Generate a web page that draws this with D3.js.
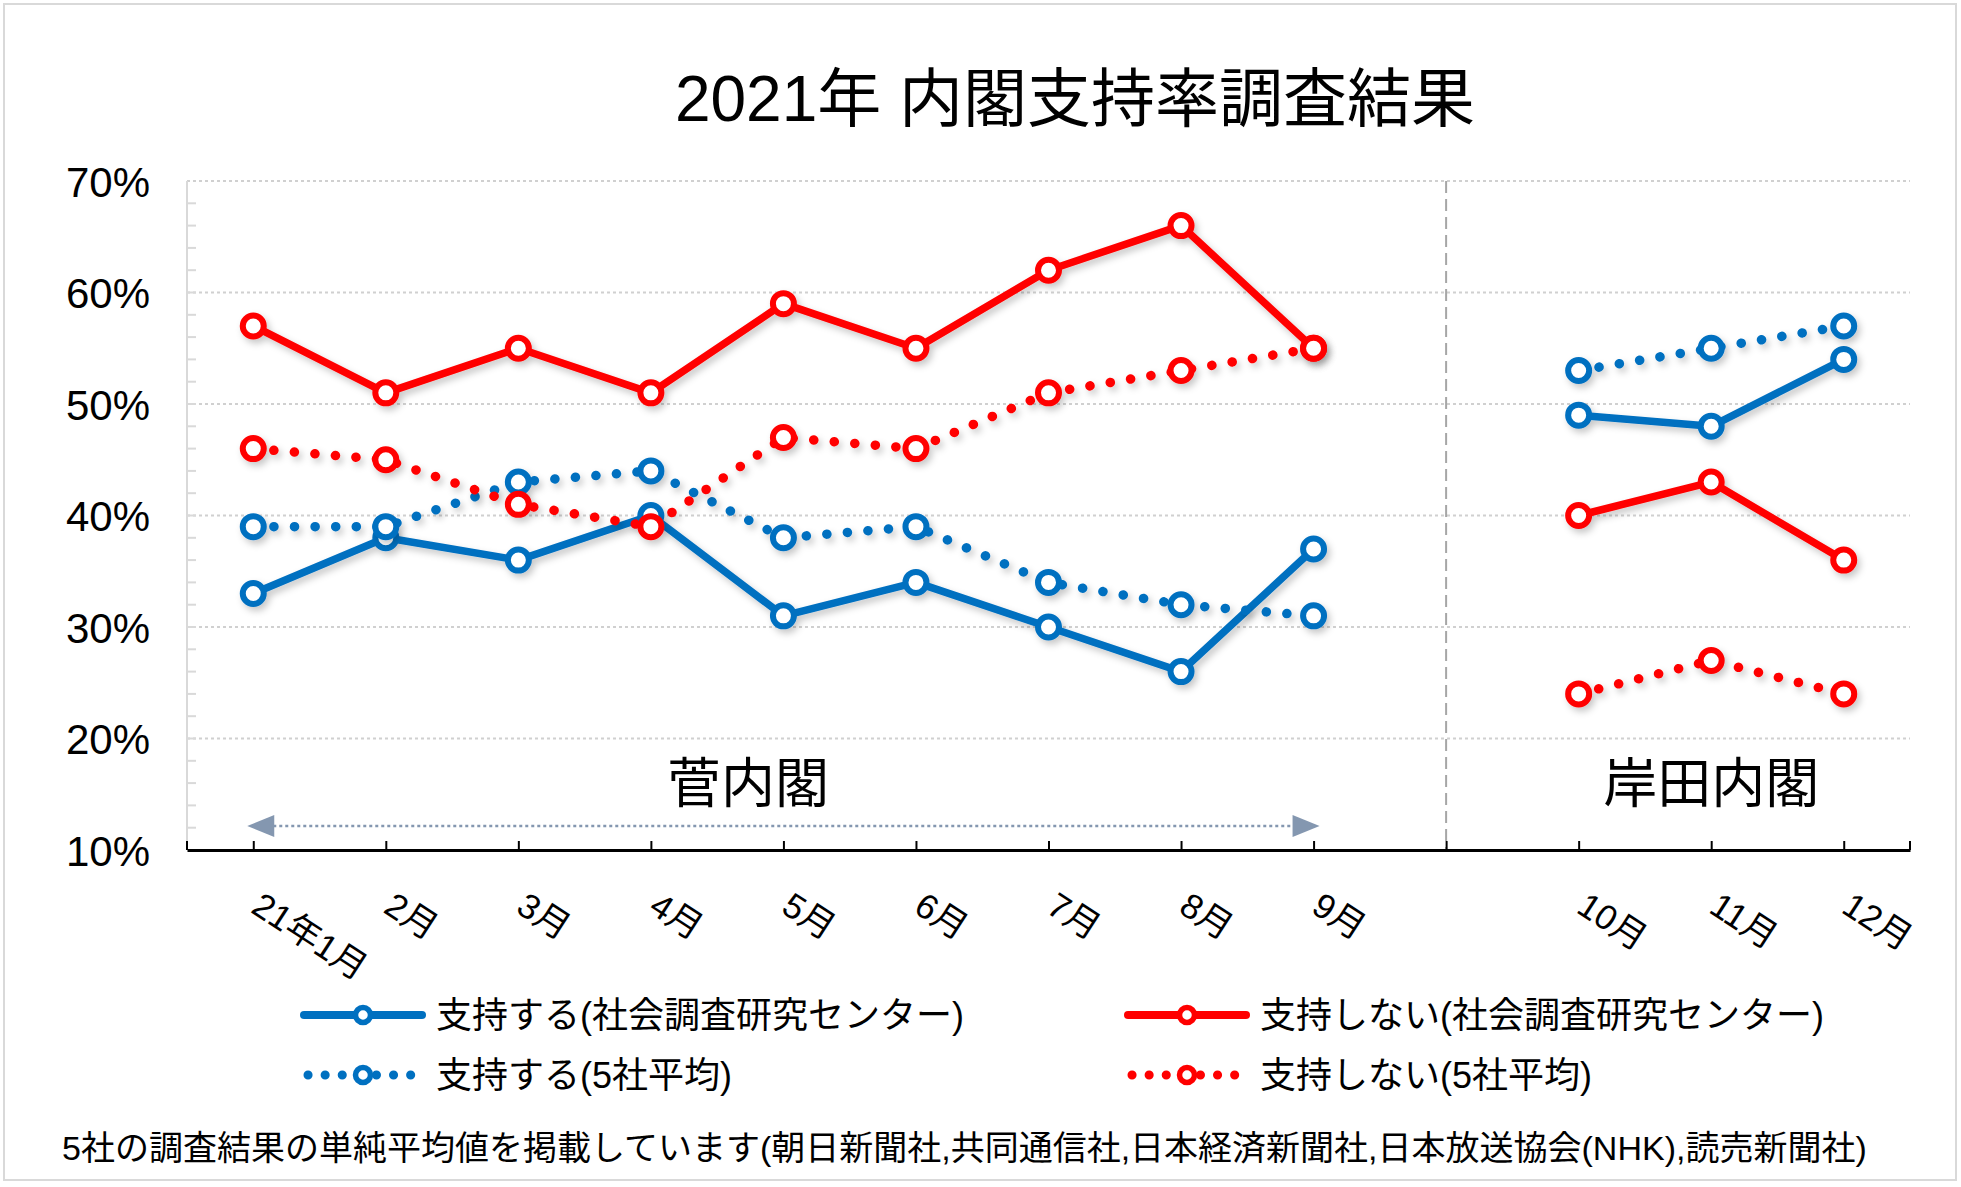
<!DOCTYPE html>
<html>
<head>
<meta charset="utf-8">
<script src="https://cdn.jsdelivr.net/npm/d3@7"></script>
<style>
  body { margin: 0; background: #fff; }
  text { font-family: "Liberation Sans", Arial, "Noto Sans CJK JP", sans-serif; fill: #000; }
</style>
</head>
<body>
<svg id="chart" width="1961" height="1187"></svg>
<script>
// categories (blank slot between the two cabinets)
const months = ["21年1月", "2月", "3月", "4月", "5月", "6月", "7月", "8月", "9月", " ", "10月", "11月", "12月"];
const yTicks = [10, 20, 30, 40, 50, 60, 70];

// percent values, null = no survey in the gap
const supportSSRC = [33, 38, 36, 40, 31, 34, 30, 26, 37, null, 49, 48, 54];
const opposeSSRC  = [57, 51, 55, 51, 59, 55, 62, 66, 55, null, 40, 43, 36];
const supportAvg  = [39, 39, 43, 44, 38, 39, 34, 32, 31, null, 53, 55, 57];
const opposeAvg   = [46, 45, 41, 39, 47, 46, 51, 53, 55, null, 24, 27, 24];

const seriesNames = [
  "支持する(社会調査研究センター)",
  "支持しない(社会調査研究センター)",
  "支持する(5社平均)",
  "支持しない(5社平均)"
];

const blue = "#0070C0";
const red = "#FF0000";

const series = [
  { name: seriesNames[0], values: supportSSRC, color: blue, dotted: false },
  { name: seriesNames[1], values: opposeSSRC, color: red, dotted: false },
  { name: seriesNames[2], values: supportAvg, color: blue, dotted: true },
  { name: seriesNames[3], values: opposeAvg, color: red, dotted: true }
];

const svg = d3.select("svg#chart");

const plot = { left: 187, right: 1910, top: 181, bottom: 850 };

const x = d3.scalePoint()
  .domain(months)
  .range([plot.left, plot.right])
  .padding(0.5);

const y = d3.scaleLinear()
  .domain([10, 70])
  .range([plot.bottom, plot.top]);

// drop shadow like the spreadsheet line effect
const defs = svg.append("defs");
defs.append("filter")
  .attr("id", "shadow")
  .attr("x", "-10%").attr("y", "-10%")
  .attr("width", "130%").attr("height", "130%")
  .append("feDropShadow")
  .attr("dx", 3).attr("dy", 4)
  .attr("stdDeviation", 3.5)
  .attr("flood-color", "#000")
  .attr("flood-opacity", 0.22);

// outer frame
svg.append("rect")
  .attr("x", 4).attr("y", 4)
  .attr("width", 1952).attr("height", 1176)
  .attr("fill", "none")
  .attr("stroke", "#d9d9d9")
  .attr("stroke-width", 2);

const g = {
  grid: svg.append("g"),
  axes: svg.append("g"),
  notes: svg.append("g"),
  lines: svg.append("g"),
  legend: svg.append("g")
};

drawTitle();
drawGrid();
drawAxes();
drawNotes();
drawSeries();
drawLegend();

function drawTitle() {
  svg.append("text")
    .attr("x", 1075)
    .attr("y", 121)
    .attr("text-anchor", "middle")
    .style("font-size", "64px")
    .text("2021年 内閣支持率調査結果");
}

function drawGrid() {
  g.grid.selectAll("line.grid")
    .data(yTicks.filter(d => d > 10))
    .enter()
    .append("line")
    .attr("class", "grid")
    .attr("x1", plot.left).attr("x2", plot.right)
    .attr("y1", d => y(d)).attr("y2", d => y(d))
    .attr("stroke", "#d0d0d0")
    .attr("stroke-width", 2)
    .attr("stroke-dasharray", "3 3");

  // left axis line + minor ticks every 2%
  g.grid.append("line")
    .attr("x1", plot.left).attr("x2", plot.left)
    .attr("y1", y(10)).attr("y2", y(70))
    .attr("stroke", "#d9d9d9")
    .attr("stroke-width", 2);

  g.grid.selectAll("line.minor")
    .data(d3.range(12, 70, 2))
    .enter()
    .append("line")
    .attr("class", "minor")
    .attr("x1", plot.left).attr("x2", plot.left + 9)
    .attr("y1", d => y(d)).attr("y2", d => y(d))
    .attr("stroke", "#d9d9d9")
    .attr("stroke-width", 2);

  // separator between the two cabinets
  g.grid.append("line")
    .attr("x1", x(" ")).attr("x2", x(" "))
    .attr("y1", y(70)).attr("y2", y(10))
    .attr("stroke", "#a6a6a6")
    .attr("stroke-width", 2)
    .attr("stroke-dasharray", "12 6");
}

function drawAxes() {
  const yAxis = d3.axisLeft(y)
    .tickValues(yTicks)
    .tickFormat(d => d + "%")
    .tickSize(0)
    .tickPadding(37);

  const ya = g.axes.append("g")
    .attr("transform", translate(plot.left, 0))
    .call(yAxis);
  ya.select(".domain").remove();
  ya.selectAll("text")
    .style("font-size", "42px")
    .attr("dy", "0.36em");

  const xAxis = d3.axisBottom(x)
    .tickSizeInner(-9)
    .tickSizeOuter(0);

  const xa = g.axes.append("g")
    .attr("transform", translate(0, plot.bottom))
    .call(xAxis);
  xa.select(".domain")
    .attr("stroke", "#000")
    .attr("stroke-width", 3);
  xa.selectAll(".tick line")
    .attr("stroke", "#000")
    .attr("stroke-width", 2);
  xa.selectAll(".tick text")
    .attr("x", 0).attr("y", 0)
    .attr("dy", "0.8em")
    .attr("text-anchor", "start")
    .attr("transform", "translate(11,38) rotate(33)")
    .style("font-size", "35px");

  // end ticks
  xa.selectAll("line.end")
    .data(x.range())
    .enter()
    .append("line")
    .attr("class", "end")
    .attr("x1", d => d).attr("x2", d => d)
    .attr("y1", 0).attr("y2", -9)
    .attr("stroke", "#000")
    .attr("stroke-width", 2);
}

function drawNotes() {
  const arrowColor = "#8497B0";
  const ax0 = x(months[0]) - 6;
  const ax1 = x(months[8]) + 6;
  const ay = 826;

  g.notes.append("line")
    .attr("x1", ax0 + 26).attr("x2", ax1 - 26)
    .attr("y1", ay).attr("y2", ay)
    .attr("stroke", arrowColor)
    .attr("stroke-width", 2.5)
    .attr("stroke-dasharray", "3 3");

  g.notes.append("path")
    .attr("d", `M${ax0},${ay} L${ax0 + 27},${ay - 11} L${ax0 + 27},${ay + 11} Z`)
    .attr("fill", arrowColor);
  g.notes.append("path")
    .attr("d", `M${ax1},${ay} L${ax1 - 27},${ay - 11} L${ax1 - 27},${ay + 11} Z`)
    .attr("fill", arrowColor);

  g.notes.append("text")
    .attr("x", 748).attr("y", 803)
    .attr("text-anchor", "middle")
    .style("font-size", "54px")
    .text("菅内閣");

  g.notes.append("text")
    .attr("x", x("11月")).attr("y", 803)
    .attr("text-anchor", "middle")
    .style("font-size", "54px")
    .text("岸田内閣");
}

function drawSeries() {
  const line = d3.line()
    .defined(d => d != null)
    .x((d, i) => x(months[i]))
    .y(d => y(d));

  series.forEach(function(s) {
    const sg = g.lines.append("g").attr("filter", "url(#shadow)");

    sg.append("path")
      .attr("d", line(s.values))
      .attr("fill", "none")
      .attr("stroke", s.color)
      .attr("stroke-width", s.dotted ? 9.5 : 7.5)
      .attr("stroke-linecap", "round")
      .attr("stroke-linejoin", "round")
      .attr("stroke-dasharray", s.dotted ? "0.1 20.5" : null);

    sg.selectAll("circle")
      .data(s.values.map((v, i) => ({ v: v, m: months[i] })).filter(d => d.v != null))
      .enter()
      .append("circle")
      .attr("cx", d => x(d.m))
      .attr("cy", d => y(d.v))
      .attr("r", 10.5)
      .attr("fill", "#fff")
      .attr("stroke", s.color)
      .attr("stroke-width", 6);
  });
}

function drawLegend() {
  const cols = [304, 1128];
  const rows = [1015, 1075];
  const symW = 118;

  const item = g.legend.selectAll("g.item")
    .data(series)
    .enter()
    .append("g")
    .attr("class", "item")
    .attr("transform", (d, i) => translate(cols[i % 2], rows[Math.floor(i / 2)]));

  item.append("line")
    .attr("x1", d => d.dotted ? 4 : 0)
    .attr("x2", d => d.dotted ? symW - 4 : symW)
    .attr("y1", 0).attr("y2", 0)
    .attr("stroke", d => d.color)
    .attr("stroke-width", d => d.dotted ? 9 : 8)
    .attr("stroke-linecap", "round")
    .attr("stroke-dasharray", d => d.dotted ? "0.1 17" : null);

  item.append("circle")
    .attr("cx", symW / 2).attr("cy", 0)
    .attr("r", 7.5)
    .attr("fill", "#fff")
    .attr("stroke", d => d.color)
    .attr("stroke-width", 5.5);

  item.append("text")
    .attr("x", 132)
    .attr("y", 0)
    .attr("dy", "0.36em")
    .style("font-size", "36px")
    .text(d => d.name);

  svg.append("text")
    .attr("x", 62)
    .attr("y", 1160)
    .style("font-size", "34px")
    .text("5社の調査結果の単純平均値を掲載しています(朝日新聞社,共同通信社,日本経済新聞社,日本放送協会(NHK),読売新聞社)");
}

function translate(x, y) {
  return "translate(" + String(x) + "," + String(y) + ")";
}
</script>
</body>
</html>
